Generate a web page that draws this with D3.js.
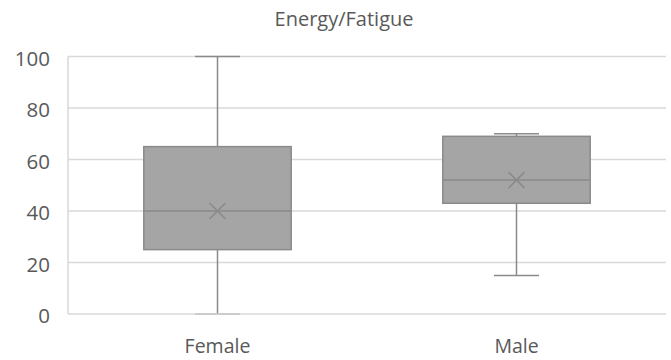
<!DOCTYPE html>
<meta charset="utf-8">
<script src="https://d3js.org/d3.v7.min.js"></script>
<style>
	body{
		margin:0;
		background:#fff;
		font-family:'Open Sans', sans-serif;
	}
	text{ fill:#595959; }
</style>
<div id="chart"></div>
<script>
	// box stats
	var groups = ["Female","Male"]
	var mins = [0,15]
	var q1s = [25,43]
	var medians = [40,52]
	var q3s = [65,69]
	var maxs = [100,70]
	var means = [40,52]
	var yTicks = [0,20,40,60,80,100]
	var title = "Energy/Fatigue"

	var w = 671
	var h = 360
	var m = {top:56.5, right:5, bottom:46, left:68}

	var boxFill = "#a5a5a5"
	var lineColor = "#8a8a8a"
	var gridColor = "#d9d9d9"

	var svg = d3.select("#chart").append("svg").attr("width",w).attr("height",h)

	var x = d3.scaleBand().domain(groups).range([m.left,w-m.right]).paddingInner(0).paddingOuter(0)
	var y = d3.scaleLinear().domain([0,100]).range([h-m.bottom,m.top])

	svg.append("text").text(title).attr("x",344).attr("y",26)
		.attr("text-anchor","middle").style("font-size","20px")

	// grid
	svg.append("g").selectAll("line").data(yTicks.filter(function(d){return d>0}))
		.join("line")
		.attr("x1",m.left).attr("x2",w-m.right)
		.attr("y1",function(d){return y(d)}).attr("y2",function(d){return y(d)})
		.attr("stroke",gridColor).attr("stroke-width",1.5)
	svg.append("line").attr("x1",m.left).attr("x2",m.left)
		.attr("y1",y(100)).attr("y2",y(0))
		.attr("stroke",gridColor).attr("stroke-width",1.5)

	svg.append("g").selectAll("text").data(yTicks).join("text")
		.attr("x",50).attr("y",function(d){return y(d)+9})
		.attr("text-anchor","end").style("font-size","20.5px")
		.text(function(d){return d})

	var boxW = x.bandwidth()*0.493
	var capW = 45

	groups.forEach(function(g,i){
		var cx = x(g)+x.bandwidth()/2
		var gg = svg.append("g")
		// whiskers
		gg.append("line").attr("x1",cx).attr("x2",cx).attr("y1",y(maxs[i])).attr("y2",y(q3s[i]))
			.attr("stroke",lineColor).attr("stroke-width",1.5)
		gg.append("line").attr("x1",cx).attr("x2",cx).attr("y1",y(q1s[i])).attr("y2",y(mins[i]))
			.attr("stroke",lineColor).attr("stroke-width",1.5)
		gg.append("line").attr("x1",cx-capW/2).attr("x2",cx+capW/2).attr("y1",y(maxs[i])).attr("y2",y(maxs[i]))
			.attr("stroke",lineColor).attr("stroke-width",1.5)
		gg.append("line").attr("x1",cx-capW/2).attr("x2",cx+capW/2).attr("y1",y(mins[i])).attr("y2",y(mins[i]))
			.attr("stroke",lineColor).attr("stroke-width",1.5)
		// box
		gg.append("rect").attr("x",cx-boxW/2).attr("width",boxW)
			.attr("y",y(q3s[i])).attr("height",y(q1s[i])-y(q3s[i]))
			.attr("fill",boxFill).attr("stroke",lineColor).attr("stroke-width",1.5)
		gg.append("line").attr("x1",cx-boxW/2).attr("x2",cx+boxW/2).attr("y1",y(medians[i])).attr("y2",y(medians[i]))
			.attr("stroke",lineColor).attr("stroke-width",1.5)
		// mean marker
		var s = 8, my = y(means[i])
		gg.append("path").attr("d","M"+(cx-s)+","+(my-s)+"L"+(cx+s)+","+(my+s)+"M"+(cx-s)+","+(my+s)+"L"+(cx+s)+","+(my-s))
			.attr("stroke",lineColor).attr("stroke-width",1.5).attr("fill","none")
	})

	// baseline drawn on top
	svg.append("line").attr("x1",m.left).attr("x2",w-m.right)
		.attr("y1",y(0)).attr("y2",y(0))
		.attr("stroke",gridColor).attr("stroke-width",1.5)

	svg.append("g").selectAll("text").data(groups).join("text")
		.attr("x",function(d){return x(d)+x.bandwidth()/2}).attr("y",353)
		.attr("text-anchor","middle").style("font-size","19.5px")
		.text(function(d){return d})
</script>
